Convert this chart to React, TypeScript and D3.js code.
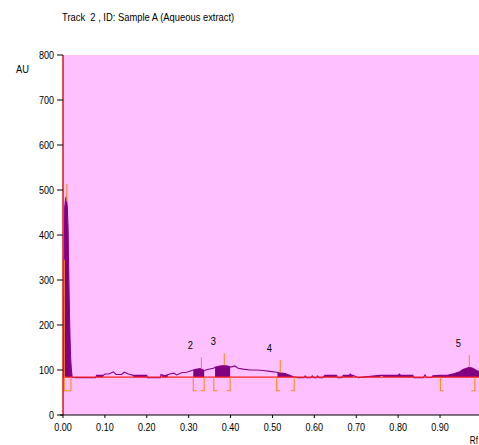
import React, { useEffect, useRef } from 'react';
import * as d3 from 'd3';

// densitogram trace (Rf, AU)
const traceRf = [
  0.0, 0.002, 0.004, 0.006, 0.008, 0.01, 0.012, 0.014, 0.016, 0.018, 0.02, 0.022,
  0.03, 0.078, 0.08, 0.096, 0.1, 0.11, 0.12, 0.127, 0.14, 0.146, 0.156, 0.168, 0.2, 0.202,
  0.232, 0.234, 0.243, 0.255, 0.265, 0.271, 0.283, 0.295, 0.311, 0.32, 0.328, 0.337, 0.345,
  0.359, 0.363, 0.375, 0.385, 0.392, 0.399, 0.403, 0.41, 0.418, 0.43, 0.446, 0.462, 0.478,
  0.494, 0.51, 0.516, 0.53, 0.55, 0.56, 0.575, 0.578, 0.581, 0.592, 0.595, 0.598, 0.605,
  0.608, 0.611, 0.62, 0.625, 0.653, 0.656, 0.665, 0.669, 0.683, 0.686, 0.689, 0.692, 0.705,
  0.757, 0.764, 0.8, 0.803, 0.806, 0.835, 0.838, 0.86, 0.864, 0.868, 0.88, 0.883, 0.9, 0.92,
  0.935, 0.947, 0.955, 0.963, 0.97, 0.978, 0.987, 0.995,
];
const traceAu = [
  84, 240, 460, 480, 485, 465, 420, 300, 200, 130, 100, 84,
  83, 83, 88, 88, 91, 91, 96, 90, 90, 95, 91, 88, 88, 83,
  83, 90, 87, 91, 93, 89, 94, 95, 100, 102, 103, 99, 101,
  104, 106, 109, 110, 109, 107, 107, 109, 104, 102, 100, 100, 99,
  97, 95, 94, 92, 85, 83, 83, 87, 83, 83, 87, 83, 83,
  87, 83, 83, 88, 88, 83, 83, 88, 88, 91, 88, 88, 83,
  88, 88, 88, 91, 88, 88, 83, 83, 89, 83, 84, 87, 88, 89,
  92, 96, 101, 104, 106, 104, 99, 96,
];

// filled segments of the trace (Rf from, Rf to)
const fillFrom = [0.0, 0.08, 0.168, 0.236, 0.311, 0.363, 0.512, 0.62, 0.669, 0.705, 0.764, 0.88];
const fillTo = [0.022, 0.096, 0.2, 0.25, 0.337, 0.399, 0.552, 0.653, 0.692, 0.757, 0.835, 0.995];

// integrated peaks
const peakLabels = ['', '2', '3', '4', '5'];
const peakStart = [0.003, 0.311, 0.36, 0.51, 0.901];
const peakEnd = [0.019, 0.337, 0.399, 0.552, 0.983];
const peakMax = [0.009, 0.3305, 0.385, 0.5186, 0.97];
const peakMarkTop = [513, 128, 137, 122, 133];
const peakStartTop = [345, 84, 84, 84, 84];

const baselineAu = 84;
const bracketAu = 54;
const yTicks = [0, 100, 200, 300, 400, 500, 600, 700, 800];
const xTicks = [0, 0.1, 0.2, 0.3, 0.4, 0.5, 0.6, 0.7, 0.8, 0.9];

const font = "'Liberation Sans', Arial, sans-serif";

export default function App() {
  const ref = useRef<SVGSVGElement>(null);

  useEffect(() => {
    const svg = d3.select(ref.current);
    svg.selectAll('*').remove();

    const left = 63, right = 479, top = 55, bottom = 415;
    const x = d3.scaleLinear().domain([0, 0.993]).range([left, right]);
    const y = d3.scaleLinear().domain([0, 800]).range([bottom, top]);

    // narrow-looking text: Arial squeezed horizontally
    const txt = (parent: any, tx: number, ty: number, s: string, size: number, anchor: string, sx: number) =>
      parent.append('text')
        .attr('transform', `translate(${tx},${ty}) scale(${sx},1)`)
        .attr('text-anchor', anchor)
        .attr('font-family', font).attr('font-size', size)
        .attr('fill', '#000')
        .style('white-space', 'pre')
        .text(s);

    const pts = traceRf.map((r, i) => [r, traceAu[i]] as [number, number]);
    const valueAt = (r: number) => {
      const i = d3.bisector((d: [number, number]) => d[0]).left(pts, r);
      if (i <= 0) return pts[0][1];
      if (i >= pts.length) return pts[pts.length - 1][1];
      const a = pts[i - 1], b = pts[i];
      return a[1] + ((r - a[0]) / (b[0] - a[0])) * (b[1] - a[1]);
    };

    svg.append('defs').append('clipPath').attr('id', 'plot')
      .append('rect').attr('x', left).attr('y', top)
      .attr('width', right - left).attr('height', bottom - top);

    svg.append('rect')
      .attr('x', left).attr('y', top)
      .attr('width', right - left).attr('height', bottom - top)
      .attr('fill', '#ffc0ff');

    const g = svg.append('g').attr('clip-path', 'url(#plot)');

    // filled parts
    const area = d3.area<[number, number]>()
      .x(d => x(d[0]))
      .y0(y(baselineAu))
      .y1(d => y(Math.max(d[1], baselineAu)));
    fillFrom.forEach((f, i) => {
      const t = fillTo[i];
      const seg: [number, number][] = [[f, valueAt(f)]];
      pts.forEach(p => { if (p[0] > f && p[0] < t) seg.push(p); });
      seg.push([t, valueAt(t)]);
      g.append('path').attr('d', area(seg)).attr('fill', '#800080');
    });

    // trace
    const line = d3.line<[number, number]>().x(d => x(d[0])).y(d => y(d[1]));
    g.append('path')
      .attr('d', line(pts))
      .attr('fill', 'none')
      .attr('stroke', '#880088')
      .attr('stroke-width', 1.1);

    // baseline
    g.append('line')
      .attr('x1', left).attr('x2', right)
      .attr('y1', y(baselineAu)).attr('y2', y(baselineAu))
      .attr('stroke', '#ff2020').attr('stroke-width', 1.3);

    // peak markers
    peakStart.forEach((s, i) => {
      const e = peakEnd[i];
      const m = peakMax[i];
      g.append('path')
        .attr('d', `M${x(s) + 3.5},${y(bracketAu)}H${x(s)}V${y(peakStartTop[i])}`)
        .attr('fill', 'none').attr('stroke', '#ff8c1a').attr('stroke-width', 1.1);
      g.append('path')
        .attr('d', `M${x(e) - 3.5},${y(bracketAu)}H${x(e)}V${y(baselineAu)}`)
        .attr('fill', 'none').attr('stroke', '#ff8c1a').attr('stroke-width', 1.1);
      g.append('line')
        .attr('x1', x(m)).attr('x2', x(m))
        .attr('y1', y(valueAt(m))).attr('y2', y(peakMarkTop[i]))
        .attr('stroke', '#ff8c1a').attr('stroke-width', 1.1);
      if (peakLabels[i]) {
        txt(g, x(m) - 11, y(peakMarkTop[i]) - 8, peakLabels[i], 11, 'middle', 0.85);
      }
    });

    // y axis
    svg.append('line')
      .attr('x1', left).attr('x2', left).attr('y1', top).attr('y2', bottom)
      .attr('stroke', '#d01818').attr('stroke-width', 1.5);
    yTicks.forEach(t => {
      svg.append('line')
        .attr('x1', left - 6).attr('x2', left).attr('y1', y(t)).attr('y2', y(t))
        .attr('stroke', '#000').attr('stroke-width', 1);
      txt(svg, left - 9, y(t) + 3.8, String(t), 11, 'end', 0.82);
    });

    // x axis
    svg.append('line')
      .attr('x1', left - 3).attr('x2', right).attr('y1', bottom).attr('y2', bottom)
      .attr('stroke', '#000').attr('stroke-width', 1);
    xTicks.forEach(t => {
      svg.append('line')
        .attr('x1', x(t)).attr('x2', x(t)).attr('y1', bottom).attr('y2', bottom + 3)
        .attr('stroke', '#000').attr('stroke-width', 1);
      txt(svg, x(t), bottom + 16, t.toFixed(2), 11, 'middle', 0.82);
    });

    txt(svg, 16, 73, 'AU', 11, 'start', 0.85);
    txt(svg, 478, 444, 'Rf', 10, 'end', 0.82);
    txt(svg, 62, 21, 'Track  2 , ID: Sample A (Aqueous extract)', 10.2, 'start', 0.92);
  }, []);

  return (
    <svg
      ref={ref}
      width={479}
      height={445}
      style={{ position: 'absolute', left: 0, top: 0, background: '#fff' }}
    />
  );
}
